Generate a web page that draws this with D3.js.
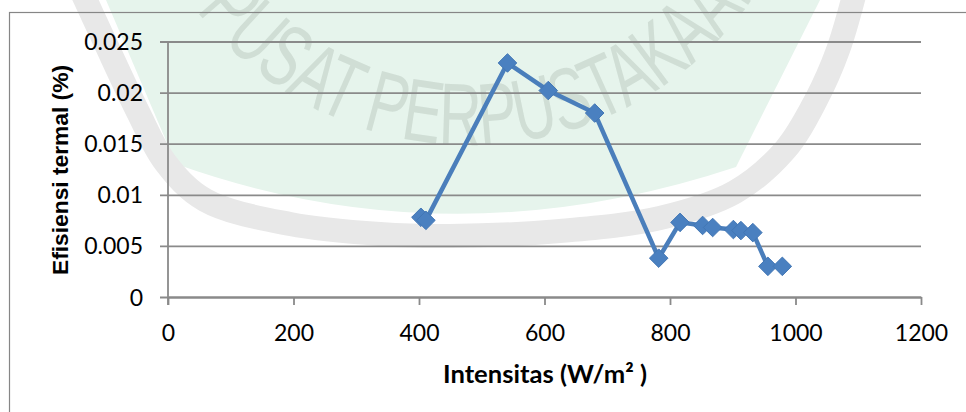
<!DOCTYPE html>
<html>
<head>
<meta charset="utf-8">
<script src="https://cdn.jsdelivr.net/npm/d3@7"></script>
<style>
  html, body { margin: 0; padding: 0; background: #fff; }
  svg { display: block; }
</style>
</head>
<body>
<svg id="chart" width="966" height="412"></svg>
<script>
// Intensity (W/m²) and thermal efficiency (%) measurements
const intensity = [403, 411, 541, 606, 680, 782, 816, 852, 868, 901, 913, 932, 956, 979];
const efficiency = [0.0078, 0.0075, 0.0229, 0.0202, 0.0180, 0.0038, 0.0073, 0.0070, 0.0068, 0.0066, 0.0065, 0.0063, 0.0030, 0.0030];

// Axis ticks and labels
const xTicks = [0, 200, 400, 600, 800, 1000, 1200];
const yTicks = [0, 0.005, 0.01, 0.015, 0.02, 0.025];
const yTickLabels = ["0", "0.005", "0.01", "0.015", "0.02", "0.025"];
const xTitle = "Intensitas (W/m² )";
const yTitle = "Efisiensi termal (%)";
const stampText = "PUSAT PERPUSTAKAAN";

const svg = d3.select("#chart");

// ---- library stamp in the background ----
const stamp = svg.append("g").attr("class", "stamp");

// pale yellow emblem pieces at the top
stamp.append("ellipse").attr("cx", 392).attr("cy", 0).attr("rx", 32).attr("ry", 27).attr("fill", "#f6f7d6");
stamp.append("ellipse").attr("cx", 524).attr("cy", 0).attr("rx", 36).attr("ry", 10).attr("fill", "#f6f7d6");

// mint shield
stamp.append("path")
  .attr("d", "M106,0 L176,164 Q450,262 736,167 L820,0 Z")
  .attr("fill", "#e6f4ec");

// grey ring band
const bandPts = [[80,-12],[104,40],[138,112],[165,162],[205,200],[290,224],[380,234],[450,236],[560,231],[660,218],[735,192],[785,150],[816,100],[838,50],[856,-12]];
stamp.append("path")
  .attr("d", d3.line().curve(d3.curveCatmullRom)(bandPts))
  .attr("fill", "none")
  .attr("stroke", "#e8e8e8")
  .attr("stroke-width", 24);

// curved lettering
const cx0 = 470, cy0 = -200, r0 = 345;
stamp.append("path")
  .attr("id", "stampArc")
  .attr("d", `M${cx0 - r0},${cy0} A${r0},${r0} 0 0 0 ${cx0 + r0},${cy0}`)
  .attr("fill", "none");
stamp.append("text")
  .attr("font-family", "Liberation Sans, Arial, sans-serif")
  .attr("font-size", 88)
  .attr("fill", "#98a49b")
  .attr("fill-opacity", 0.28)
  .append("textPath")
  .attr("href", "#stampArc")
  .attr("startOffset", 226)
  .attr("textLength", 676)
  .attr("lengthAdjust", "spacingAndGlyphs")
  .text(stampText);

// ---- chart frame ----
svg.append("rect")
  .attr("x", 9.5).attr("y", 12.5)
  .attr("width", 980).attr("height", 420)
  .attr("fill", "none")
  .attr("stroke", "#868686")
  .attr("stroke-width", 1.2);

// ---- scales ----
const x = d3.scaleLinear().domain([0, 1200]).range([168, 921]);
const y = d3.scaleLinear().domain([0, 0.025]).range([297, 41.5]);

const axisColor = "#8a8a8a";
const tickFont = "Lato, 'Open Sans', sans-serif";

// horizontal gridlines (with their outer tick stubs)
const yAxis = d3.axisLeft(y)
  .tickValues(yTicks)
  .tickSize(0)
  .tickFormat((d, i) => yTickLabels[i]);
const gy = svg.append("g").attr("transform", `translate(${x(0)},0)`).call(yAxis);
gy.select(".domain").remove();
gy.selectAll(".tick line")
  .attr("x1", -8)
  .attr("x2", x(1200) - x(0))
  .attr("stroke", axisColor)
  .attr("stroke-width", 1.8);
gy.selectAll(".tick text")
  .attr("x", -25)
  .attr("dy", "0.35em")
  .attr("fill", "#000")
  .attr("font-family", tickFont)
  .attr("font-size", 23)
  .attr("text-anchor", "end");

// vertical axis line
svg.append("line")
  .attr("x1", x(0)).attr("x2", x(0))
  .attr("y1", y(0.025)).attr("y2", y(0) + 8)
  .attr("stroke", axisColor).attr("stroke-width", 1.8);

// x axis
const xAxis = d3.axisBottom(x)
  .tickValues(xTicks)
  .tickSize(8)
  .tickSizeOuter(0)
  .tickFormat(d3.format("d"));
const gx = svg.append("g").attr("transform", `translate(0,${y(0)})`).call(xAxis);
gx.select(".domain").attr("stroke", axisColor).attr("stroke-width", 1.8);
gx.selectAll(".tick line").attr("stroke", axisColor).attr("stroke-width", 1.8);
gx.selectAll(".tick text")
  .attr("y", 44)
  .attr("dy", 0)
  .attr("fill", "#000")
  .attr("font-family", tickFont)
  .attr("font-size", 23);

// axis titles
svg.append("text")
  .attr("x", 545).attr("y", 383)
  .attr("text-anchor", "middle")
  .attr("font-family", tickFont)
  .attr("font-weight", "bold")
  .attr("font-size", 24)
  .attr("textLength", 204)
  .attr("lengthAdjust", "spacingAndGlyphs")
  .attr("fill", "#000")
  .text(xTitle);

svg.append("text")
  .attr("transform", "translate(68,170) rotate(-90)")
  .attr("text-anchor", "middle")
  .attr("font-family", "Liberation Sans, Arial, sans-serif")
  .attr("font-weight", "bold")
  .attr("font-size", 22)
  .attr("textLength", 210)
  .attr("lengthAdjust", "spacingAndGlyphs")
  .attr("fill", "#000")
  .text(yTitle);

// ---- series ----
const data = intensity.map((v, i) => ({ x: v, y: efficiency[i] }));
const seriesColor = "#4a7ebb";

svg.append("path")
  .datum(data)
  .attr("d", d3.line().x(d => x(d.x)).y(d => y(d.y)))
  .attr("fill", "none")
  .attr("stroke", seriesColor)
  .attr("stroke-width", 4.5)
  .attr("stroke-linejoin", "round");

const diamond = d3.symbol().type(d3.symbolDiamond2).size(220);
svg.append("g").selectAll("path")
  .data(data)
  .join("path")
  .attr("transform", d => `translate(${x(d.x)},${y(d.y)})`)
  .attr("d", diamond)
  .attr("fill", "#4a80c0")
  .attr("stroke", "#4377b5")
  .attr("stroke-width", 1);
</script>
</body>
</html>
